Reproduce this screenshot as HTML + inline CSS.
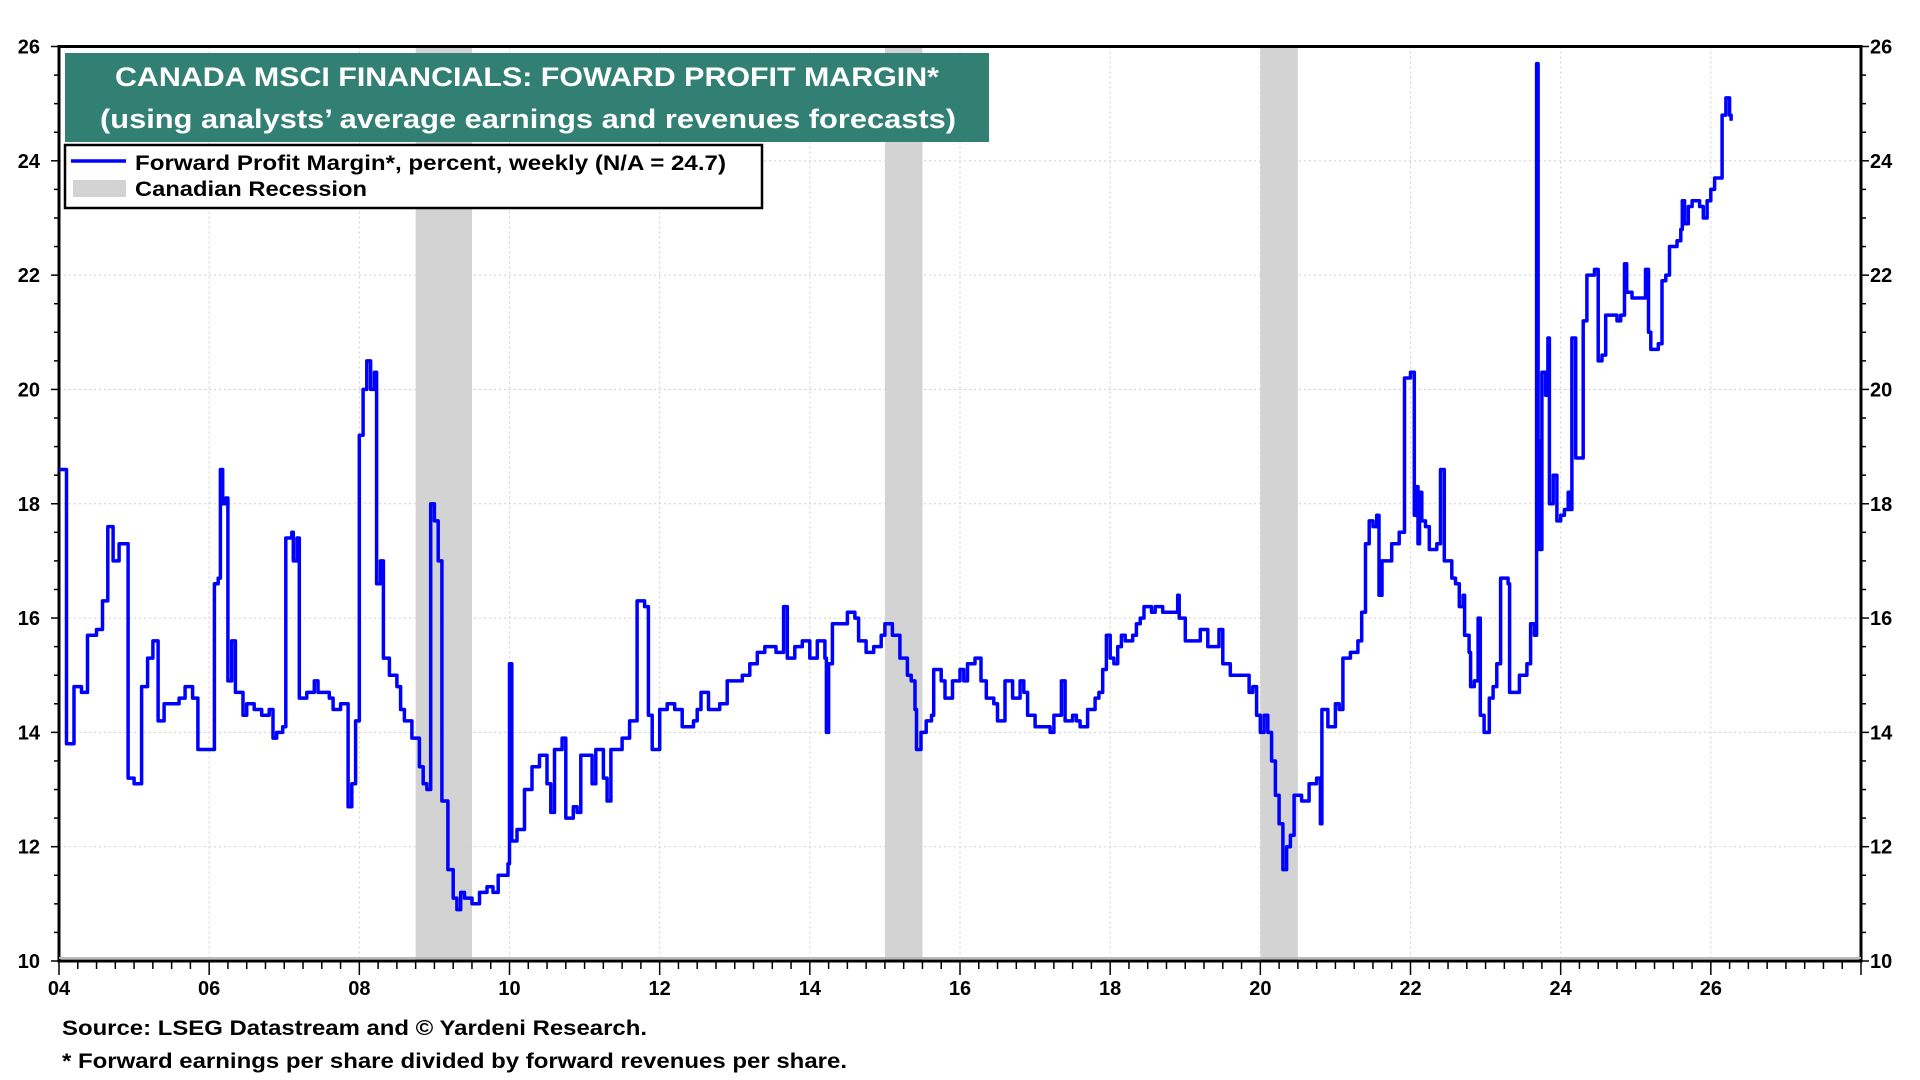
<!DOCTYPE html>
<html><head><meta charset="utf-8"><style>
html,body{margin:0;padding:0;background:#fff;}
svg{display:block;font-family:"Liberation Sans",Arial,sans-serif;font-weight:bold;}
</style></head><body>
<svg id="chart" width="1920" height="1080" viewBox="0 0 1920 1080" xmlns="http://www.w3.org/2000/svg">
<g id="recessions"></g>
<g id="grid"></g>
<g id="axes"></g>
<path id="series" fill="none" stroke="#0000ff" stroke-width="3.5" stroke-linejoin="round"/>
<g>
<rect x="65" y="53" width="924" height="89" fill="#318073"/>
<text x="527" y="86" font-size="27" fill="#fff" text-anchor="middle" textLength="824" lengthAdjust="spacingAndGlyphs">CANADA MSCI FINANCIALS: FOWARD PROFIT MARGIN*</text>
<text x="528" y="128" font-size="27" fill="#fff" text-anchor="middle" textLength="856" lengthAdjust="spacingAndGlyphs">(using analysts’ average earnings and revenues forecasts)</text>
</g>
<g>
<rect x="65" y="145" width="697" height="63" fill="#fff" stroke="#000" stroke-width="2.5"/>
<line x1="71" y1="161" x2="126" y2="161" stroke="#0000ff" stroke-width="3.5"/>
<text x="135" y="170" font-size="21" textLength="591" lengthAdjust="spacingAndGlyphs">Forward Profit Margin*, percent, weekly (N/A = 24.7)</text>
<rect x="73" y="180" width="53" height="17" fill="#d3d3d3"/>
<text x="135" y="196" font-size="21" textLength="232" lengthAdjust="spacingAndGlyphs">Canadian Recession</text>
</g>
<text x="62" y="1035" font-size="21" textLength="585" lengthAdjust="spacingAndGlyphs">Source: LSEG Datastream and © Yardeni Research.</text>
<text x="62" y="1068" font-size="21" textLength="785" lengthAdjust="spacingAndGlyphs">* Forward earnings per share divided by forward revenues per share.</text>
</svg>
<script>
const recessionStarts = [2008.75, 2015.0, 2020.0];
const recessionEnds = [2009.5, 2015.5, 2020.5];
const yTicks = [10, 12, 14, 16, 18, 20, 22, 24, 26];
const xTickYears = [2004, 2006, 2008, 2010, 2012, 2014, 2016, 2018, 2020, 2022, 2024, 2026];
const xTickLabels = ["04","06","08","10","12","14","16","18","20","22","24","26"];
const dates = [2004.0,2004.08,2004.1,2004.18,2004.2,2004.3,2004.38,2004.5,2004.58,2004.65,2004.72,2004.8,2004.9,2004.92,2005.0,2005.08,2005.1,2005.18,2005.25,2005.3,2005.32,2005.4,2005.55,2005.6,2005.68,2005.78,2005.85,2006.05,2006.07,2006.12,2006.15,2006.18,2006.22,2006.25,2006.3,2006.35,2006.45,2006.5,2006.6,2006.7,2006.8,2006.85,2006.9,2006.98,2007.02,2007.1,2007.12,2007.17,2007.2,2007.3,2007.4,2007.45,2007.6,2007.65,2007.75,2007.85,2007.9,2007.95,2008.0,2008.05,2008.1,2008.15,2008.2,2008.23,2008.28,2008.32,2008.4,2008.5,2008.55,2008.6,2008.7,2008.8,2008.85,2008.9,2008.95,2009.0,2009.05,2009.1,2009.15,2009.18,2009.25,2009.3,2009.35,2009.4,2009.5,2009.6,2009.7,2009.78,2009.85,2009.98,2010.0,2010.03,2010.1,2010.2,2010.3,2010.4,2010.5,2010.55,2010.6,2010.7,2010.75,2010.85,2010.9,2010.95,2011.05,2011.1,2011.15,2011.25,2011.3,2011.35,2011.5,2011.6,2011.7,2011.8,2011.85,2011.9,2012.0,2012.1,2012.2,2012.3,2012.45,2012.5,2012.55,2012.65,2012.8,2012.9,2013.0,2013.1,2013.2,2013.3,2013.4,2013.55,2013.65,2013.7,2013.8,2013.9,2014.0,2014.1,2014.2,2014.22,2014.25,2014.3,2014.4,2014.5,2014.6,2014.65,2014.75,2014.85,2014.95,2015.0,2015.1,2015.2,2015.3,2015.35,2015.4,2015.42,2015.48,2015.55,2015.62,2015.65,2015.75,2015.8,2015.9,2016.0,2016.05,2016.1,2016.2,2016.28,2016.35,2016.45,2016.5,2016.6,2016.7,2016.8,2016.85,2016.9,2017.0,2017.1,2017.2,2017.25,2017.3,2017.35,2017.4,2017.5,2017.55,2017.6,2017.7,2017.8,2017.85,2017.9,2017.95,2018.0,2018.05,2018.1,2018.15,2018.2,2018.3,2018.35,2018.4,2018.45,2018.55,2018.6,2018.7,2018.8,2018.9,2018.92,2019.0,2019.1,2019.2,2019.3,2019.35,2019.45,2019.5,2019.6,2019.7,2019.8,2019.85,2019.9,2019.95,2020.0,2020.05,2020.1,2020.15,2020.2,2020.25,2020.3,2020.35,2020.4,2020.45,2020.55,2020.65,2020.75,2020.8,2020.82,2020.9,2021.0,2021.05,2021.1,2021.2,2021.3,2021.35,2021.4,2021.45,2021.5,2021.55,2021.58,2021.62,2021.72,2021.75,2021.85,2021.92,2022.0,2022.05,2022.08,2022.1,2022.12,2022.15,2022.2,2022.25,2022.35,2022.4,2022.45,2022.55,2022.6,2022.65,2022.7,2022.72,2022.78,2022.8,2022.85,2022.9,2022.93,2022.98,2023.05,2023.1,2023.15,2023.2,2023.3,2023.32,2023.4,2023.45,2023.55,2023.6,2023.65,2023.68,2023.7,2023.72,2023.75,2023.8,2023.83,2023.85,2023.9,2023.95,2024.0,2024.05,2024.1,2024.12,2024.15,2024.2,2024.25,2024.3,2024.35,2024.45,2024.5,2024.55,2024.6,2024.7,2024.75,2024.8,2024.85,2024.88,2024.95,2025.0,2025.1,2025.13,2025.17,2025.2,2025.25,2025.3,2025.35,2025.4,2025.45,2025.55,2025.6,2025.62,2025.65,2025.7,2025.75,2025.85,2025.9,2025.95,2026.0,2026.05,2026.12,2026.15,2026.2,2026.25,2026.27];
const margins = [18.6,18.6,13.8,13.8,14.8,14.7,15.7,15.8,16.3,17.6,17.0,17.3,17.3,13.2,13.1,13.1,14.8,15.3,15.6,15.6,14.2,14.5,14.5,14.6,14.8,14.6,13.7,13.7,16.6,16.7,18.6,18.0,18.1,14.9,15.6,14.7,14.3,14.5,14.4,14.3,14.4,13.9,14.0,14.1,17.4,17.5,17.0,17.4,14.6,14.7,14.9,14.7,14.6,14.4,14.5,12.7,13.1,14.2,19.2,20.0,20.5,20.0,20.3,16.6,17.0,15.3,15.0,14.8,14.4,14.2,13.9,13.4,13.1,13.0,18.0,17.7,17.0,12.8,12.8,11.6,11.1,10.9,11.2,11.1,11.0,11.2,11.3,11.2,11.5,11.7,15.2,12.1,12.3,13.0,13.4,13.6,13.1,12.6,13.7,13.9,12.5,12.7,12.6,13.6,13.6,13.1,13.7,13.2,12.8,13.7,13.9,14.2,16.3,16.2,14.3,13.7,14.4,14.5,14.4,14.1,14.2,14.4,14.7,14.4,14.5,14.9,14.9,15.0,15.2,15.4,15.5,15.4,16.2,15.3,15.5,15.6,15.3,15.6,15.3,14.0,15.2,15.9,15.9,16.1,16.0,15.6,15.4,15.5,15.7,15.9,15.7,15.3,15.0,14.9,14.4,13.7,14.0,14.2,14.3,15.1,14.9,14.6,14.9,15.1,14.9,15.2,15.3,14.9,14.6,14.5,14.2,14.9,14.6,14.9,14.7,14.3,14.1,14.1,14.0,14.3,14.3,14.9,14.2,14.3,14.2,14.1,14.4,14.6,14.7,15.1,15.7,15.3,15.2,15.5,15.7,15.6,15.7,15.9,16.0,16.2,16.1,16.2,16.1,16.1,16.4,16.0,15.6,15.6,15.8,15.5,15.5,15.8,15.2,15.0,15.0,15.0,14.7,14.8,14.3,14.0,14.3,14.0,13.5,12.9,12.4,11.6,12.0,12.2,12.9,12.8,13.1,13.2,12.4,14.4,14.1,14.5,14.4,15.3,15.4,15.6,16.1,17.3,17.7,17.6,17.8,16.4,17.0,17.0,17.3,17.5,20.2,20.3,17.8,18.3,17.3,18.2,17.7,17.6,17.2,17.3,18.6,17.0,16.7,16.6,16.2,16.4,15.7,15.4,14.8,14.9,16.0,14.3,14.0,14.6,14.8,15.2,16.7,16.6,14.7,14.7,15.0,15.2,15.9,15.7,25.7,19.1,17.2,20.3,19.9,20.9,18.0,18.5,17.7,17.8,17.9,18.2,17.9,20.9,18.8,18.8,21.2,22.0,22.1,20.5,20.6,21.3,21.3,21.2,21.3,22.2,21.7,21.6,21.6,21.6,22.1,21.0,20.7,20.7,20.8,21.9,22.0,22.5,22.6,22.8,23.3,22.9,23.2,23.3,23.2,23.0,23.3,23.5,23.7,23.7,24.8,25.1,24.8,24.7];

const L=59, R=1861, T=46.5, B=961, X0=2004, X1=2028, Y0=10, Y1=26;
function xs(v){return L+(v-X0)/(X1-X0)*(R-L);}
function ys(v){return B-(v-Y0)/(Y1-Y0)*(B-T);}
const NS="http://www.w3.org/2000/svg";
function mk(tag,parent,attrs){const e=document.createElementNS(NS,tag);for(const k in attrs)e.setAttribute(k,attrs[k]);parent.appendChild(e);return e;}

const rg=document.getElementById('recessions');
recessionStarts.forEach((s,i)=>{
  const r=mk('rect',rg,{x:xs(s),y:T,width:xs(recessionEnds[i])-xs(s),height:B-T,fill:'#d3d3d3'});
  
  
});
const gg=document.getElementById('grid');
yTicks.forEach(v=>{if(v>Y0&&v<Y1){const l=mk('line',gg,{x1:L,x2:R,y1:ys(v),y2:ys(v),stroke:'#cfcfcf','stroke-width':1,'stroke-dasharray':'2,3'});
  
  }});
xTickYears.forEach(v=>{if(v>X0){const l=mk('line',gg,{x1:xs(v),x2:xs(v),y1:T,y2:B,stroke:'#cfcfcf','stroke-width':1,'stroke-dasharray':'2,3'});
  
  }});

const ag=document.getElementById('axes');
for(let v=Y0;v<=Y1+0.001;v+=0.5){const maj=Math.abs(v-Math.round(v/2)*2)<0.01;const len=maj?8:5;
  mk('line',ag,{x1:L-len,x2:L,y1:ys(v),y2:ys(v),stroke:'#000','stroke-width':1.5});
  mk('line',ag,{x1:R,x2:R+len,y1:ys(v),y2:ys(v),stroke:'#000','stroke-width':1.5});}
for(let v=X0;v<=X1+0.001;v+=0.25){const maj=Math.abs(v-Math.round(v/2)*2)<0.01;
  mk('line',ag,{x1:xs(v),x2:xs(v),y1:B,y2:B+(maj?14:8),stroke:'#000','stroke-width':1.5});}
const frame=mk('rect',ag,{x:L,y:T,width:R-L,height:B-T,fill:'none',stroke:'#000','stroke-width':3});


mk('line',ag,{x1:L,x2:R,y1:B-3,y2:B-3,stroke:'#bbb','stroke-width':2});
yTicks.forEach(v=>{
  const a=mk('text',ag,{x:40,y:ys(v)+7,'font-size':20,'text-anchor':'end'});a.textContent=v;
  
  
  const b=mk('text',ag,{x:1870,y:ys(v)+7,'font-size':20});b.textContent=v;
  
  
});
xTickYears.forEach((v,i)=>{
  const t=mk('text',ag,{x:xs(v),y:995,'font-size':20,'text-anchor':'middle'});t.textContent=xTickLabels[i];
  
  
});
let d='';
dates.forEach((v,i)=>{
  const x=xs(v).toFixed(1), y=ys(margins[i]).toFixed(1);
  if(i===0){d+='M'+x+','+y;}
  else{d+='H'+x+'V'+y;}
});
document.getElementById('series').setAttribute('d',d);
</script>
</body></html>
